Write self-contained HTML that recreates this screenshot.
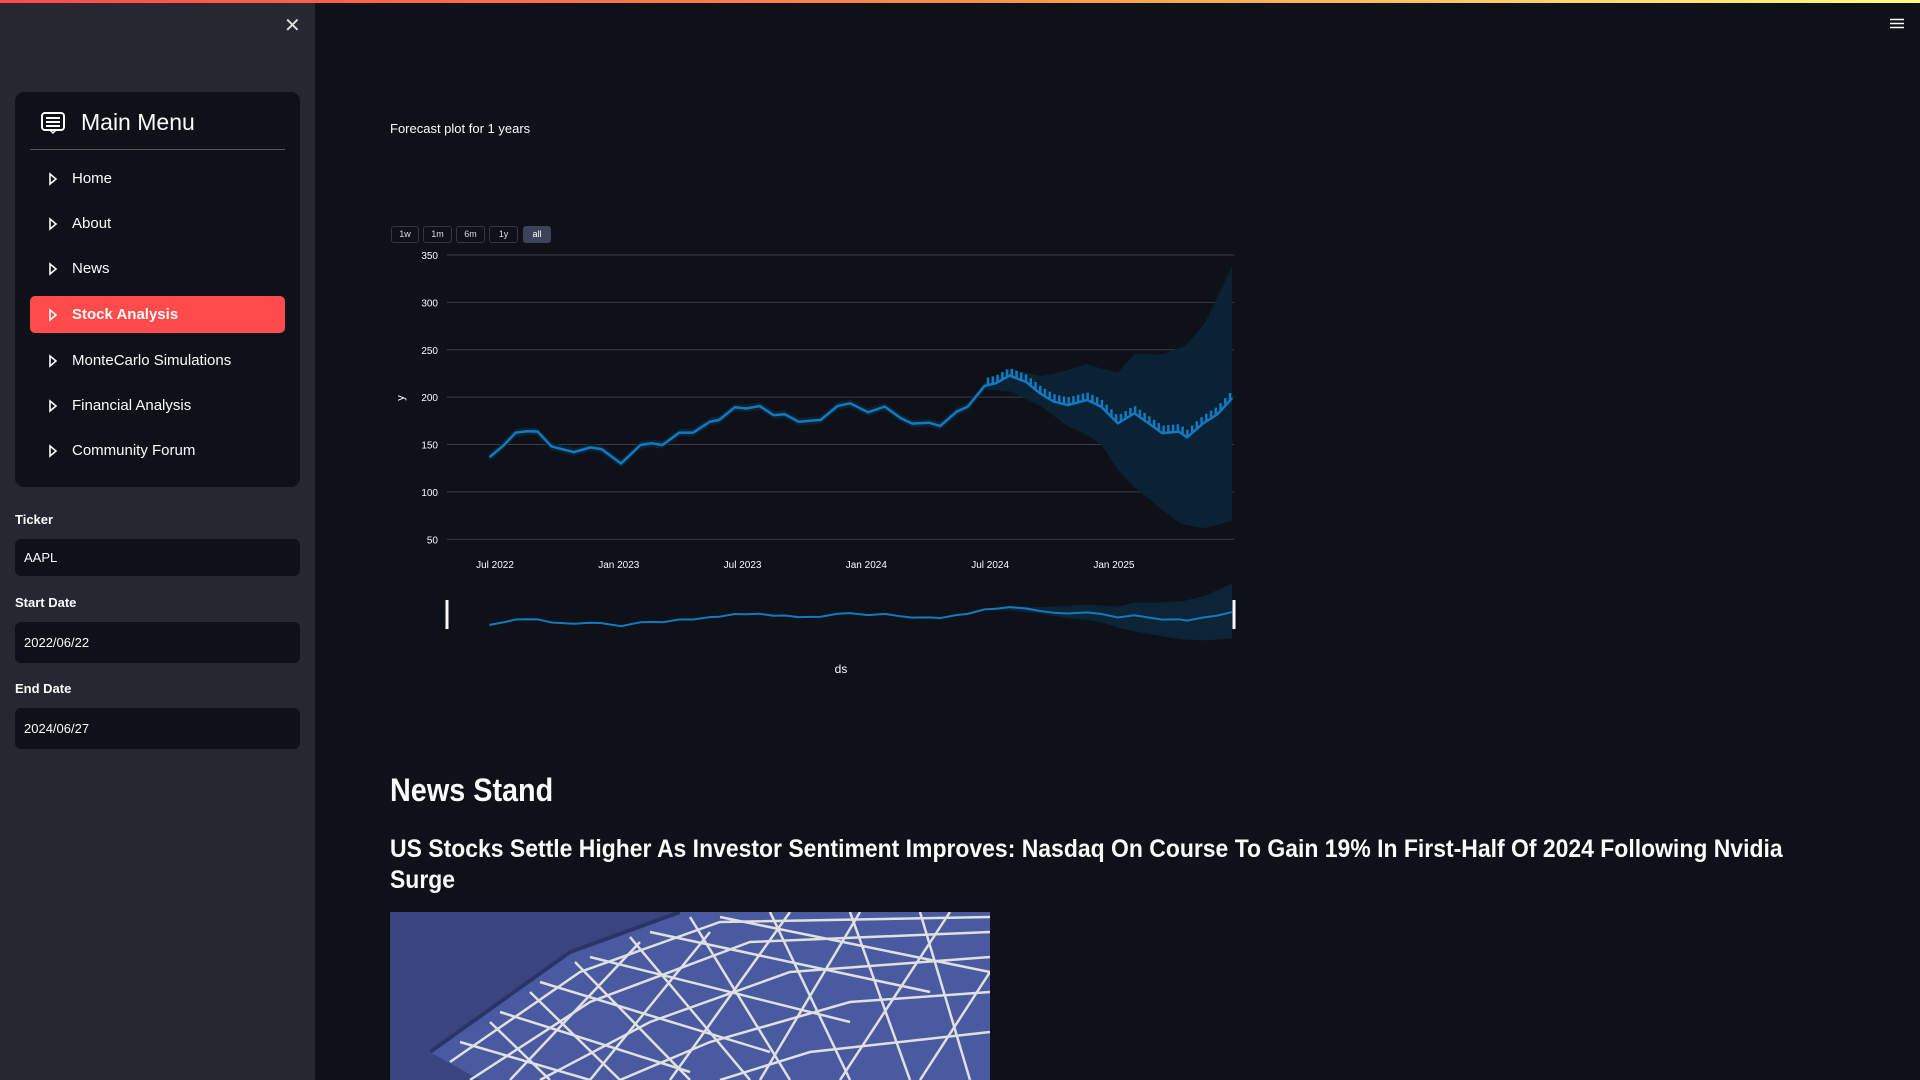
<!DOCTYPE html>
<html><head><meta charset="utf-8"><style>
*{box-sizing:border-box;margin:0;padding:0}
body{width:1920px;height:1080px;overflow:hidden;background:#0e1117;font-family:"Liberation Sans",sans-serif;color:#fafafa;position:relative}
.abs{position:absolute}
#topbar{left:0;top:0;width:1920px;height:3px;background:linear-gradient(90deg,#ff4b4b,#ff8c4b 50%,#fffd80)}
#sidebar{left:0;top:3px;width:315px;height:1077px;background:#262730}
#menu{left:15px;top:89px;width:285px;height:395px;background:#0e1117;border-radius:9px}
.item{position:absolute;left:15px;width:255px;height:37px;font-size:15px;line-height:37px;padding-left:42px;color:#fafafa}
.item svg{position:absolute;left:18px;top:12px}
.item.active{background:#ff4b4b;border-radius:5px;font-weight:bold}
.lbl{position:absolute;left:15px;font-size:13px;font-weight:bold;color:#fafafa}
.inp{position:absolute;left:15px;width:285px;background:#0e1117;border-radius:6px;font-size:13px;padding-left:9px;color:#fafafa}
.btn{position:absolute;top:226px;height:17px;border:1px solid #33373f;border-radius:3px;background:#0e1117;color:#ddd;font-size:9px;text-align:center;line-height:15px}
</style></head><body>
<div id="topbar" class="abs"></div>
<div id="sidebar" class="abs">
  <div class="abs" style="left:284px;top:10px;font-size:20px;color:#ddd;cursor:pointer">✕</div>
  <div id="menu" class="abs">
    <svg class="abs" style="left:26px;top:20px" width="24" height="24" viewBox="0 0 24 24"><rect x="1" y="1" width="22" height="17" rx="3" fill="none" stroke="#fafafa" stroke-width="2"/><path d="M5 6h14M5 10h14M5 14h14" stroke="#fafafa" stroke-width="2"/><path d="M9 18l3 3 3-3" fill="none" stroke="#fafafa" stroke-width="1.5"/></svg>
    <div class="abs" style="left:66px;top:17px;font-size:23px">Main Menu</div>
    <div class="abs" style="left:15px;top:57px;width:255px;height:1px;background:#555"></div>
    <div class="item" style="top:68px"><svg width="10" height="14"><path d="M2 2l6 5-6 5z" fill="none" stroke="#fafafa" stroke-width="1.6"/></svg>Home</div>
    <div class="item" style="top:113px"><svg width="10" height="14"><path d="M2 2l6 5-6 5z" fill="none" stroke="#fafafa" stroke-width="1.6"/></svg>About</div>
    <div class="item" style="top:158px"><svg width="10" height="14"><path d="M2 2l6 5-6 5z" fill="none" stroke="#fafafa" stroke-width="1.6"/></svg>News</div>
    <div class="item active" style="top:204px"><svg width="10" height="14"><path d="M2 2l6 5-6 5z" fill="none" stroke="#fafafa" stroke-width="1.6"/></svg>Stock Analysis</div>
    <div class="item" style="top:250px"><svg width="10" height="14"><path d="M2 2l6 5-6 5z" fill="none" stroke="#fafafa" stroke-width="1.6"/></svg>MonteCarlo Simulations</div>
    <div class="item" style="top:295px"><svg width="10" height="14"><path d="M2 2l6 5-6 5z" fill="none" stroke="#fafafa" stroke-width="1.6"/></svg>Financial Analysis</div>
    <div class="item" style="top:340px"><svg width="10" height="14"><path d="M2 2l6 5-6 5z" fill="none" stroke="#fafafa" stroke-width="1.6"/></svg>Community Forum</div>
  </div>
  <div class="lbl" style="top:509px">Ticker</div>
  <div class="inp" style="top:536px;height:37px;line-height:37px">AAPL</div>
  <div class="lbl" style="top:592px">Start Date</div>
  <div class="inp" style="top:619px;height:41px;line-height:41px">2022/06/22</div>
  <div class="lbl" style="top:678px">End Date</div>
  <div class="inp" style="top:705px;height:41px;line-height:41px">2024/06/27</div>
</div>
<svg class="abs" style="left:1890px;top:18px" width="14" height="11"><path d="M0 1.5h14M0 5.5h14M0 9.5h14" stroke="#fafafa" stroke-width="1.6"/></svg>

<div class="abs" style="left:390px;top:121px;font-size:13px">Forecast plot for 1 years</div>
<div class="btn" style="left:391px;width:28px">1w</div>
<div class="btn" style="left:423px;width:29px">1m</div>
<div class="btn" style="left:456px;width:29px">6m</div>
<div class="btn" style="left:489px;width:29px">1y</div>
<div class="btn" style="left:523px;width:28px;background:#3d4459;border-color:#3d4459;color:#fff">all</div>

<svg id="chart" class="abs" style="left:0;top:0" width="1920" height="1080"></svg>

<div class="abs" style="left:390px;top:772px;font-size:32px;font-weight:bold;transform:scaleX(0.9);transform-origin:0 0">News Stand</div>
<div class="abs" style="left:390px;top:834px;font-size:25px;font-weight:bold;line-height:31px;white-space:nowrap;transform:scaleX(0.918);transform-origin:0 0">US Stocks Settle Higher As Investor Sentiment Improves: Nasdaq On Course To Gain 19% In First-Half Of 2024 Following Nvidia<br>Surge</div>
<svg class="abs" style="left:390px;top:912px" width="600" height="168" viewBox="0 0 600 168">
<rect width="600" height="168" fill="#3a4580"/>
<path d="M40 140 L180 40 L290 0 L600 0 L600 168 L90 168 Z" fill="#4a5aa0"/>
<g stroke="#e8e8e4" stroke-width="2.5" fill="none" opacity="0.95">
<path d="M40 140 L180 40 L290 0"/><path d="M60 150 L190 60 L330 10 L600 5"/>
<path d="M80 168 L200 90 L360 30 L600 20"/><path d="M150 168 L260 110 L400 60 L600 45"/>
<path d="M230 168 L320 130 L460 90 L600 80"/><path d="M330 168 L420 140 L600 120"/>
<path d="M70 130 L200 168"/><path d="M110 100 L300 160"/><path d="M150 70 L380 140"/><path d="M200 45 L460 110"/><path d="M260 20 L540 80"/><path d="M330 5 L600 60"/>
<path d="M100 110 L160 168"/><path d="M140 80 L230 168"/><path d="M185 50 L300 168"/><path d="M240 25 L360 168"/><path d="M300 5 L400 168"/><path d="M380 0 L460 168"/><path d="M460 0 L520 168"/><path d="M530 0 L580 168"/>
<path d="M120 168 L250 30"/><path d="M200 168 L320 20"/><path d="M280 168 L400 0"/><path d="M370 168 L470 0"/><path d="M450 168 L560 0"/><path d="M530 168 L600 60"/>
</g>
<path d="M40 140 L180 40 L290 0" stroke="#2a3468" stroke-width="4" fill="none"/>
</svg>

<script>
// Forecast trend (months since Jul 2022, yhat)
const trendT = [-0.27,0.46,1.0,1.53,2.07,2.74,3.82,4.63,5.17,6.11,7.05,7.59,8.12,8.93,9.6,10.41,10.87,11.62,12.16,12.83,13.51,14.04,14.72,15.79,16.6,17.22,18.08,18.89,19.69,20.23,21.04,21.58,22.38,22.92,23.73,24.27,24.94,25.75,26.42,27.09,27.76,28.71,29.38,30.19,30.99,31.8,32.34,33.15,33.55,34.33,35.03,35.73];
const trendY = [136.5,150,162.5,164,163.6,148,142,147,145,130,149.5,151.3,149.5,162.5,162.5,174,176,189.3,188,190.6,181,182,174,176,190.6,193.5,184,190,177.6,172,173,169.6,184.7,190,211.8,214.6,222.7,216,204,195.2,191.7,197,190,172.4,183,170.6,162,163.6,157.6,172.4,182.2,198.8];
const forecastStartT = 23.9;
// Uncertainty band in forecast region
const bandT = [-0.27,23.9,25,26.5,27.7,28.7,29.4,30.2,31,31.8,32.3,33.2,33.5,34.3,34.5,35.73];
const bandUpper = [141,216,230,222,228,235,230,226,246,245,245,252,255,275,282,338];
const bandLower = [132,208,206,190,170,160,150,123,105,91,82,67,65,62,62,70];
const yTicks = [50,100,150,200,250,300,350];
const xTickT = [0,6,12,18,24,30];
const xTickLabels = ["Jul 2022","Jan 2023","Jul 2023","Jan 2024","Jul 2024","Jan 2025"];

const NS='http://www.w3.org/2000/svg';
const svg=document.getElementById('chart');
const X0=447,X1=1234;
const xs=t=>495+t*20.63;
const ys=v=>539.3-(v-50)*0.9477;
const ysMini=v=>625-(v-136)*0.206;
function mk(tag,attrs,parent){const e=document.createElementNS(NS,tag);for(const k in attrs)e.setAttribute(k,attrs[k]);(parent||svg).appendChild(e);return e;}
function interp(T,V,t){if(t<=T[0])return V[0];for(let i=1;i<T.length;i++){if(t<=T[i]){const f=(t-T[i-1])/(T[i]-T[i-1]);return V[i-1]+f*(V[i]-V[i-1]);}}return V[V.length-1];}
function up(t){return t<forecastStartT?interp(trendT,trendY,t)+4:interp(bandT,bandUpper,t);}
function lo(t){return t<forecastStartT?interp(trendT,trendY,t)-4:interp(bandT,bandLower,t);}

yTicks.forEach(v=>{
  const g=mk('line',{x1:X0,x2:X1,y1:ys(v),y2:ys(v),stroke:'#3a3d44','stroke-width':1});
  
  
  const t=mk('text',{x:438,y:ys(v)+4,'text-anchor':'end','font-size':10,fill:'#fafafa','font-family':'Liberation Sans'});
  t.textContent=v;
  
  
});
xTickT.forEach((tt,i)=>{
  const t=mk('text',{x:xs(tt),y:568,'text-anchor':'middle','font-size':10,fill:'#fafafa','font-family':'Liberation Sans'});
  t.textContent=xTickLabels[i];
  
  
});
const yl=mk('text',{x:404,y:398,'text-anchor':'middle','font-size':11,fill:'#fafafa',transform:'rotate(-90 404 398)','font-family':'Liberation Sans'});
yl.textContent='y';


const xl=mk('text',{x:841,y:673,'text-anchor':'middle','font-size':12,fill:'#fafafa','font-family':'Liberation Sans'});
xl.textContent='ds';



function buildPaths(yfn){
  const t0=trendT[0],t1=trendT[trendT.length-1];let U=[],L=[];
  for(let t=t0;t<=t1+1e-6;t+=0.1){U.push([xs(t),yfn(up(t))]);L.push([xs(t),yfn(lo(t))]);}
  const band='M'+U.map(p=>p.join(',')).join('L')+'L'+L.reverse().map(p=>p.join(',')).join('L')+'Z';
  const line='M'+trendT.map((t,i)=>xs(t)+','+yfn(trendY[i])).join('L');
  return {band,line};
}
const main=buildPaths(ys);
const b=mk('path',{d:main.band,fill:'#0b2436',opacity:0.95});


const l=mk('path',{d:main.line,fill:'none',stroke:'#1379c0','stroke-width':2.5,'stroke-linejoin':'round'});


let d='';
for(let t=forecastStartT;t<=trendT[trendT.length-1];t+=0.23){const v=interp(trendT,trendY,t);d+='M'+xs(t)+','+ys(v+1)+'L'+xs(t)+','+ys(v+8);}
const osc=mk('path',{d:d,stroke:'#1379c0','stroke-width':2.5,fill:'none'});



const mini=buildPaths(ysMini);
const mb=mk('path',{d:mini.band,fill:'#0b2436'});


const ml=mk('path',{d:mini.line,fill:'none',stroke:'#1379c0','stroke-width':2});


[X0,X1].forEach(x=>{
  const h=mk('rect',{x:x-1.5,y:600,width:3,height:29,fill:'#fafafa'});
  
  
});
</script>
</body></html>
